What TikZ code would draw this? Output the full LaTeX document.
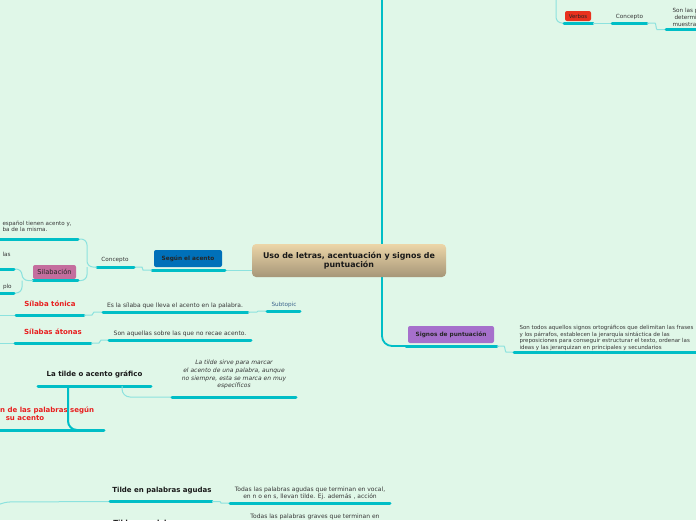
\documentclass[tikz,border=0pt]{standalone}
\usepackage{fontspec}
\setmainfont{DejaVu Sans}
\usetikzlibrary{positioning}

\definecolor{fondo}{RGB}{224,247,232}
\definecolor{turquesa}{RGB}{0,190,198}
\definecolor{enlacecol}{RGB}{140,226,222}
\definecolor{marronclaro}{RGB}{236,214,168}
\definecolor{marronoscuro}{RGB}{166,150,120}
\definecolor{azul}{RGB}{0,112,185}
\definecolor{morado}{RGB}{166,112,204}
\definecolor{rosa}{RGB}{196,110,158}
\definecolor{rojocaja}{RGB}{232,50,30}
\definecolor{rojotexto}{RGB}{232,30,30}
\definecolor{gristexto}{RGB}{55,55,55}
\definecolor{azultexto}{RGB}{60,100,140}

\tikzset{
  subrayado/.style={line width=3pt, turquesa, line cap=round},
  enlace/.style={line width=1pt, enlacecol, rounded corners=3pt},
  eje/.style={line width=1.8pt, turquesa, rounded corners=10pt},
  caja/.style={rounded corners=2pt, inner sep=1pt, text=black!85,
    font=\fontsize{5.8}{6.5}\selectfont\bfseries},
  texto/.style={font=\fontsize{6}{7.2}\selectfont, text=gristexto, align=center},
  tema/.style={font=\fontsize{7}{8}\selectfont\bfseries, text=black!90, align=center},
  temarojo/.style={tema, text=rojotexto},
}

\begin{document}
\begin{tikzpicture}[x=1pt,y=-1pt]
        \useasboundingbox (0,0) rectangle (696,520);
        \fill[fondo] (0,0) rectangle (696,520);
        \clip (0,0) rectangle (696,520);

        % Eje principal
        \coordinate (ejearriba) at (382,0);
        \coordinate (signosA) at (406,346);
        \coordinate (signosB) at (497,346);
        \draw[eje] (ejearriba) -- (382,346) -- (signosA);

        % Nodo central
        \node[rounded corners=4pt, top color=marronclaro, bottom color=marronoscuro,
            minimum width=194pt, minimum height=33pt, align=center, text=black!90,
            font=\fontsize{7.9}{8.6}\selectfont\bfseries] (central) at (349,260.5)
            {Uso de letras, acentuación y signos de\\puntuación};

        % Signos de puntuación
        \node[caja, fill=morado, minimum width=86pt, minimum height=17pt] (signos)
            at (451,334.5) {Signos de puntuación};
        \draw[subrayado] (signosA) -- (signosB);

        \coordinate (sdefA) at (514,352);
        \coordinate (sdefB) at (700,352);
        \node[texto, font=\fontsize{5.5}{6.7}\selectfont, align=left, anchor=north west]
            (signosdef) at (516,321.5)
            {Son todos aquellos signos ortográficos que delimitan las frases\\
             y los párrafos, establecen la jerarquía sintáctica de las\\
             preposiciones para conseguir estructurar el texto, ordenar las\\
             ideas y las jerarquizan en principales y secundarios};
        \draw[enlace] (signosB) -- (501,346) to[out=0,in=180] (509,352) -- (sdefA);
        \draw[subrayado] (sdefA) -- (sdefB);

        % Verbos (arriba a la derecha)
        \coordinate (verbosA) at (564,23);
        \coordinate (verbosB) at (593,23);
        \draw[enlace, rounded corners=6pt] (556,-2) -- (556,23) -- (verbosA);
        \node[caja, fill=rojocaja, minimum width=26pt, minimum height=10pt,
            font=\fontsize{5.4}{6}\selectfont] (verbos) at (578,16) {Verbos};
        \draw[subrayado] (verbosA) -- (verbosB);

        \coordinate (conc2A) at (612,23);
        \coordinate (conc2B) at (647,23);
        \node[texto, font=\fontsize{5.7}{6.5}\selectfont] (concepto2) at (629.5,17) {Concepto};
        \draw[enlace] (verbosB) -- (conc2A);
        \draw[subrayado] (conc2A) -- (conc2B);

        \coordinate (vdefA) at (666,29.5);
        \coordinate (vdefB) at (700,29.5);
        \node[texto, font=\fontsize{5.7}{6.6}\selectfont, align=left, anchor=north west]
            (verbosdef) at (669,5) {Son las p\\\hspace{2pt}determi\\muestra e};
        \draw[enlace] (conc2B) -- (652,23) to[out=0,in=180] (660,29.5) -- (vdefA);
        \draw[subrayado] (vdefA) -- (vdefB);

        % Según el acento
        \coordinate (segunA) at (152,270);
        \coordinate (segunB) at (225,270);
        \node[caja, fill=azul, minimum width=68pt, minimum height=17pt] (segun)
            at (188,258.5) {Según el acento};
        \draw[enlace] (segunB) -- (segunB -| central.west);
        \draw[subrayado] (segunA) -- (segunB);

        \coordinate (concA) at (97,267);
        \coordinate (concB) at (134,267);
        \node[texto, font=\fontsize{5.7}{6.5}\selectfont] (concepto) at (115,260) {Concepto};
        \draw[enlace] (segunA) -- (146,270) to[out=180,in=0] (139,267) -- (concB);
        \draw[subrayado] (concA) -- (concB);

        % Rama superior izquierda
        \coordinate (arribaA) at (-5,239);
        \coordinate (arribaB) at (78,239);
        \node[texto, font=\fontsize{5.6}{6.6}\selectfont, align=left, anchor=south west]
            (arribadef) at (-1,235.5) {español tienen acento y,\\ba de la misma.};
        \draw[enlace, rounded corners=6pt] (concA) -- (87,267) -- (87,239) -- (arribaB);
        \draw[subrayado] (arribaA) -- (arribaB);

        % Silabación
        \coordinate (silabA) at (33,280.5);
        \coordinate (silabB) at (78,280.5);
        \node[caja, fill=rosa, minimum width=43pt, minimum height=14pt,
            font=\fontsize{6.7}{7.5}\selectfont] (silab) at (54.5,272) {Silabación};
        \draw[enlace, rounded corners=6pt] (87,267) -- (87,280.5) -- (silabB);
        \draw[subrayado] (silabA) -- (silabB);

        \coordinate (lasB) at (14,269);
        \coordinate (ploB) at (14,293);
        \node[texto, font=\fontsize{5.7}{6.5}\selectfont, anchor=west] (las) at (-1,254) {las};
        \node[texto, font=\fontsize{5.7}{6.5}\selectfont, anchor=west] (plo) at (-0.5,287) {plo};
        \draw[enlace, rounded corners=6pt] (silabA) -- (22,280.5) -- (22,269) -- (lasB);
        \draw[enlace, rounded corners=6pt] (22,280.5) -- (22,293) -- (ploB);
        \draw[subrayado] (-5,269) -- (lasB);
        \draw[subrayado] (-5,293) -- (ploB);

        % Sílaba tónica
        \coordinate (tonicaA) at (16,315);
        \coordinate (tonicaB) at (84,315);
        \node[temarojo] (tonica) at (50,303.5) {Sílaba tónica};
        \draw[enlace] (-2,315) -- (tonicaA);
        \draw[subrayado] (tonicaA) -- (tonicaB);

        \coordinate (tdefA) at (103,312);
        \coordinate (tdefB) at (248,312);
        \node[texto] (tonicadef) at (175,305.5) {Es la sílaba que lleva el acento en la palabra.};
        \draw[enlace] (tonicaB) -- (89,315) to[out=0,in=180] (97,312) -- (tdefA);
        \draw[subrayado] (tdefA) -- (tdefB);

        \coordinate (subA) at (267,311);
        \coordinate (subB) at (300,311);
        \node[texto, font=\fontsize{5.7}{6.5}\selectfont, text=azultexto] (subtopic)
            at (284,305) {Subtopic};
        \draw[enlace] (tdefB) -- (254,312) to[out=0,in=180] (261,311) -- (subA);
        \draw[subrayado] (subA) -- (subB);

        % Sílabas átonas
        \coordinate (atonasA) at (15,343);
        \coordinate (atonasB) at (91,343);
        \node[temarojo] (atonas) at (53,331.5) {Sílabas átonas};
        \draw[enlace] (-2,343) -- (atonasA);
        \draw[subrayado] (atonasA) -- (atonasB);

        \coordinate (adefA) at (109,340);
        \coordinate (adefB) at (251,340);
        \node[texto] (atonasdef) at (180,334) {Son aquellas sobre las que no recae acento.};
        \draw[enlace] (atonasB) -- (96,343) to[out=0,in=180] (104,340) -- (adefA);
        \draw[subrayado] (adefA) -- (adefB);

        % La tilde o acento gráfico
        \coordinate (tildeA) at (38,386);
        \coordinate (tildeB) at (151,386);
        \node[tema] (tilde) at (94.5,374.5) {La tilde o acento gráfico};
        \draw[subrayado] (tildeA) -- (tildeB);

        \coordinate (tldefA) at (172,397);
        \coordinate (tldefB) at (296,397);
        \node[texto, font=\fontsize{6}{7.7}\selectfont\itshape] (tildedef) at (234,374.5)
            {La tilde sirve para marcar\\el acento de una palabra, aunque\\
             no siempre, esta se marca en muy\\específicos};
        \draw[enlace, rounded corners=8pt] (122,386) -- (122,397) -- (tldefA);
        \draw[subrayado] (tldefA) -- (tldefB);

        % Clasificación de las palabras
        \coordinate (clasA) at (-5,430);
        \coordinate (clasB) at (104,430);
        \node[temarojo] (clasif) at (25,414) {Clasificación de las palabras según\\su acento};
        \draw[line width=2pt, turquesa, rounded corners=9pt] (68,386) -- (68,430) -- (82,430);
        \draw[subrayado] (clasA) -- (clasB);

        % Tilde en palabras agudas
        \coordinate (agudasA) at (110,501.5);
        \coordinate (agudasB) at (212,501.5);
        \node[tema] (agudas) at (162,491) {Tilde en palabras agudas};
        \draw[enlace, rounded corners=6pt] (-4,506) -- (4,502) -- (agudasA);
        \draw[subrayado] (agudasA) -- (agudasB);

        \coordinate (agdefA) at (230,503);
        \coordinate (agdefB) at (390,503);
        \node[texto] (agudasdef) at (310,493)
            {Todas las palabras agudas que terminan en vocal,\\
             en n o en s, llevan tilde. Ej. además , acción};
        \draw[enlace] (agudasB) -- (217,501.5) to[out=0,in=180] (224,503) -- (agdefA);
        \draw[subrayado] (agdefA) -- (agdefB);

        % Tilde en palabras graves (cortado)
        \node[tema] (graves) at (162,524) {Tilde en palabras graves};
        \node[texto] (gravesdef) at (315,517) {Todas las palabras graves que terminan en};
    \end{tikzpicture}
\end{document}
